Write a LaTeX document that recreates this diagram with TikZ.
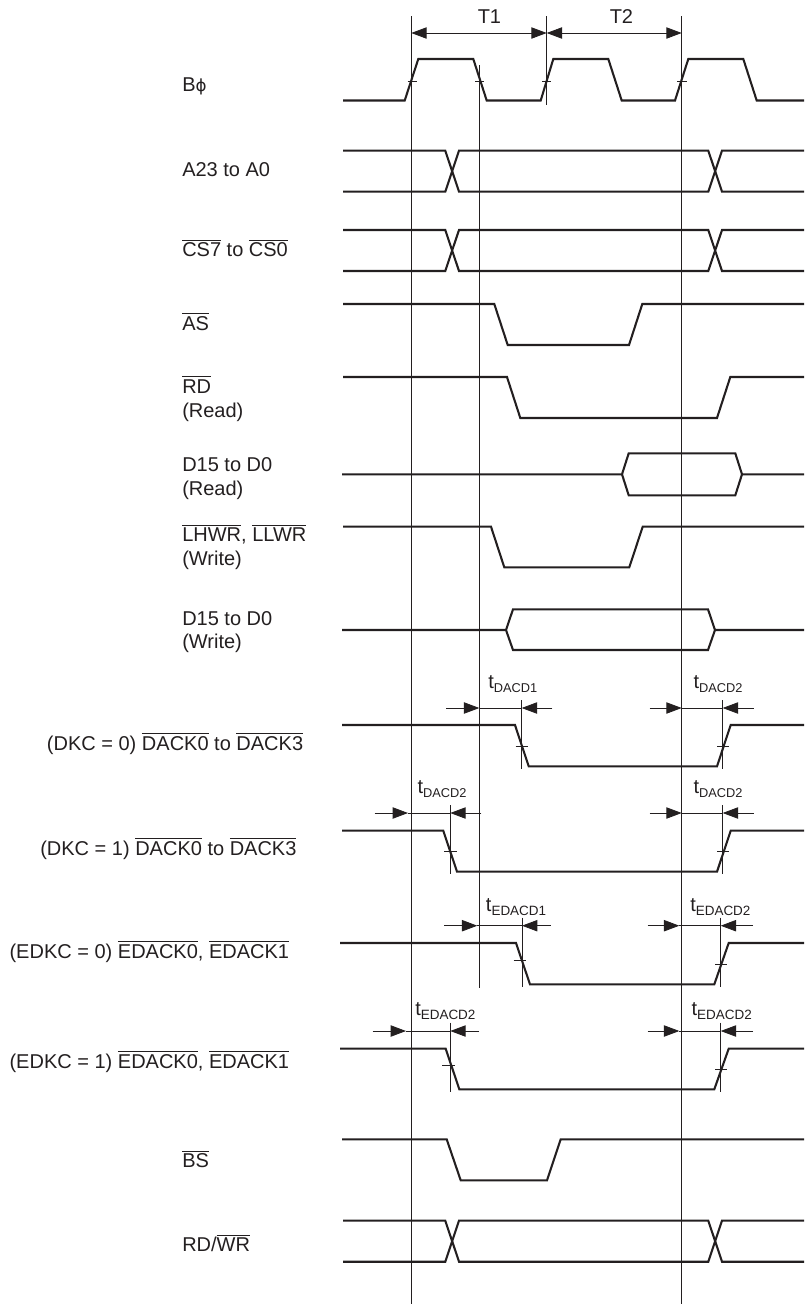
\documentclass[tikz,border=0pt]{standalone}
\usepackage{fontspec}
\setmainfont{Liberation Sans}
\newfontfamily\phifont{DejaVu Sans}
\usetikzlibrary{arrows.meta}
\definecolor{ink}{HTML}{231F20}
\newcommand{\ovl}[1]{\leavevmode\vbox{\hrule height .55pt \kern 1.8pt \hbox{#1}}}
\newcommand{\tsub}[3]{t\raisebox{-3pt}{\fontsize{#3}{12}\selectfont #1#2}}
\tikzset{
  x=.75pt,y=-.75pt,
  sig/.style={draw=ink,line width=1.55pt,line join=miter,line cap=butt},
  guide/.style={draw=ink,line width=.75pt},
  tickm/.style={draw=ink,line width=.6pt},
  dim/.style={draw=ink,line width=.6pt,-{Triangle[length=11.5pt,width=8.5pt]}},
  dimb/.style={draw=ink,line width=.6pt,{Triangle[length=11.5pt,width=8.5pt]}-{Triangle[length=11.5pt,width=8.5pt]}},
  lab/.style={anchor=base west,inner sep=0pt,text=ink,font=\fontsize{15}{18}\selectfont},
}
\begin{document}
\begin{tikzpicture}
\useasboundingbox (0,0) rectangle (804,1304);
% guides
\draw[guide] (411.3,16) -- (411.3,1304);
\draw[guide] (479.3,65) -- (479.3,988);
\draw[guide] (546.7,16) -- (546.7,105);
\draw[guide] (681.7,16) -- (681.7,1304);
\draw[guide] (521.7,700) -- (521.7,768.7);
\draw[guide] (722.7,700) -- (722.7,768.7);
\draw[guide] (450.3,805) -- (450.3,873.7);
\draw[guide] (722.7,805) -- (722.7,873.7);
\draw[guide] (522,917.7) -- (522,986.7);
\draw[guide] (720.7,917.7) -- (720.7,986.7);
\draw[guide] (450.3,1022.7) -- (450.3,1092);
\draw[guide] (720.7,1022.7) -- (720.7,1092);
% period arrows
\draw[dimb] (411.3,33) -- (546.7,33);
\draw[dimb] (546.7,33) -- (681.7,33);
\node[lab] (t1) at (477.5,23) {T1};
\node[lab] (t2) at (609.5,23) {T2};
% clock
\draw[sig] (343,100.5) -- (404.7,100.5) -- (418.3,59) -- (473.3,59) -- (486.7,100.5) -- (540.7,100.5) -- (553.3,59) -- (608.3,59) -- (621.7,100.5) -- (675,100.5) -- (688.3,59) -- (743.3,59) -- (756.7,100.5) -- (804,100.5);
\draw[tickm] (407.7,81) -- (416.7,81);
\draw[tickm] (475,81) -- (483.7,81);
\draw[tickm] (542.3,81) -- (551.3,81);
\draw[tickm] (677,81) -- (687,81);
% buses
\foreach \t/\b in {150.7/191.7,230/271,1220.7/1261.7}{
  \draw[sig] (343,\t) -- (445.3,\t) -- (459,\b) -- (708.3,\b) -- (722,\t) -- (804,\t);
  \draw[sig] (343,\b) -- (445.3,\b) -- (459,\t) -- (708.3,\t) -- (722,\b) -- (804,\b);
}
% AS, RD, LHWR, BS
\draw[sig] (343,304) -- (494.3,304) -- (507.7,345) -- (629,345) -- (642.3,304) -- (804,304);
\draw[sig] (343,377) -- (507,377) -- (520.3,418) -- (717,418) -- (730.3,377) -- (804,377);
\draw[sig] (343,526.7) -- (491,526.7) -- (504.3,567.3) -- (629.3,567.3) -- (642.7,526.7) -- (804,526.7);
\draw[sig] (342,1139.3) -- (446.7,1139.3) -- (460.7,1180.3) -- (547,1180.3) -- (560.7,1139.3) -- (804,1139.3);
% data
\draw[sig] (342,474.3) -- (622,474.3) -- (628.7,453.3) -- (735.3,453.3) -- (742,474.3) -- (804,474.3);
\draw[sig] (622,474.3) -- (628.7,495.3) -- (735.3,495.3) -- (742,474.3);
\draw[sig] (342,630) -- (506,630) -- (513,609.3) -- (708,609.3) -- (715,630) -- (804,630);
\draw[sig] (506,630) -- (513,650) -- (708,650) -- (715,630);
% DACK rows
\draw[sig] (342,725) -- (515,725) -- (528.7,766.3) -- (717,766.3) -- (730.7,725) -- (804,725);
\draw[sig] (342,830.7) -- (443.3,830.7) -- (457,871.7) -- (717,871.7) -- (730.7,830.7) -- (804,830.7);
\draw[sig] (340,943) -- (516,943) -- (530,984.3) -- (714.3,984.3) -- (728.7,943) -- (804,943);
\draw[sig] (340,1048.7) -- (445.7,1048.7) -- (459.3,1089.3) -- (714.3,1089.3) -- (728.7,1048.7) -- (804,1048.7);
% ticks
\draw[tickm] (515.7,746.3) -- (528,746.3);
\draw[tickm] (717,746.3) -- (729.3,746.3);
\draw[tickm] (444.3,851.7) -- (457,851.7);
\draw[tickm] (717,851.7) -- (729.3,851.7);
\draw[tickm] (513.7,960.7) -- (525.7,960.7);
\draw[tickm] (715,964) -- (727.3,964);
\draw[tickm] (442,1065.7) -- (454.7,1065.7);
\draw[tickm] (715,1069.7) -- (727.3,1069.7);
% timing arrows
\draw[dim] (446,708) -- (479.3,708);
\draw[dim] (552.3,708) -- (521.7,708);
\draw[dim] (649.7,708) -- (681.7,708);
\draw[dim] (753.7,708) -- (722.7,708);
\draw[tickm] (479.3,708) -- (521.7,708);
\draw[tickm] (681.7,708) -- (722.7,708);
\draw[dim] (374.7,813) -- (408,813);
\draw[dim] (481.3,813) -- (450.3,813);
\draw[dim] (649.7,813) -- (681.7,813);
\draw[dim] (753.7,813) -- (722.7,813);
\draw[tickm] (408,813) -- (450.3,813);
\draw[tickm] (681.7,813) -- (722.7,813);
\draw[dim] (444,925.7) -- (477.3,925.7);
\draw[dim] (550.7,925.7) -- (522,925.7);
\draw[dim] (647.7,925.7) -- (679.3,925.7);
\draw[dim] (753,925.7) -- (720.7,925.7);
\draw[tickm] (477.3,925.7) -- (522,925.7);
\draw[tickm] (679.3,925.7) -- (720.7,925.7);
\draw[dim] (372.7,1031) -- (406,1031);
\draw[dim] (479,1031) -- (450.3,1031);
\draw[dim] (647.7,1031) -- (679.3,1031);
\draw[dim] (753,1031) -- (720.7,1031);
\draw[tickm] (406,1031) -- (450.3,1031);
\draw[tickm] (679.3,1031) -- (720.7,1031);
% timing labels
\node[lab] (ta) at (488,688.3) {\tsub{DACD}{1}{9.6}};
\node[lab] (tb) at (693.3,688.3) {\tsub{DACD}{2}{9.6}};
\node[lab] (tc) at (417.3,793.5) {\tsub{DACD}{2}{9.6}};
\node[lab] (td) at (693.3,793.5) {\tsub{DACD}{2}{9.6}};
\node[lab] (te) at (485.7,911.7) {\tsub{EDACD}{1}{10.1}};
\node[lab] (tf) at (690,911.7) {\tsub{EDACD}{2}{10.1}};
\node[lab] (tg) at (415,1015) {\tsub{EDACD}{2}{10.1}};
\node[lab] (th) at (691.3,1015) {\tsub{EDACD}{2}{10.1}};
% signal labels
\node[lab] (l1) at (182,91.7) {B{\phifont\fontsize{12.5}{14}\selectfont\char"03D5}};
\node[lab] (l2) at (182,176.7) {A23 to A0};
\node[lab] (l3) at (182,256.7) {\ovl{CS7} to \ovl{CS0}};
\node[lab] (l4) at (182,330) {\ovl{AS}};
\node[lab] (l5) at (182,393.3) {\ovl{RD}};
\node[lab] (l5b) at (182,417.5) {(Read)};
\node[lab] (l6) at (182,471.7) {D15 to D0};
\node[lab] (l6b) at (182,495) {(Read)};
\node[lab] (l7) at (182,541.7) {\ovl{LHWR}, \ovl{LLWR}};
\node[lab] (l7b) at (182,565.5) {(Write)};
\node[lab] (l8) at (182,625) {D15 to D0};
\node[lab] (l8b) at (182,648.3) {(Write)};
\node[lab] (l9) at (46.7,750) {(DKC = 0) \ovl{DACK0} to \ovl{DACK3}};
\node[lab] (l10) at (40,855) {(DKC = 1) \ovl{DACK0} to \ovl{DACK3}};
\node[lab] (l11) at (9.3,958.3) {(EDKC = 0) \ovl{EDACK0}, \ovl{EDACK1}};
\node[lab] (l12) at (9.3,1068.3) {(EDKC = 1) \ovl{EDACK0}, \ovl{EDACK1}};
\node[lab] (l13) at (182,1167.7) {\ovl{BS}};
\node[lab] (l14) at (182,1251.7) {RD/\ovl{WR}};
\end{tikzpicture}
\end{document}
